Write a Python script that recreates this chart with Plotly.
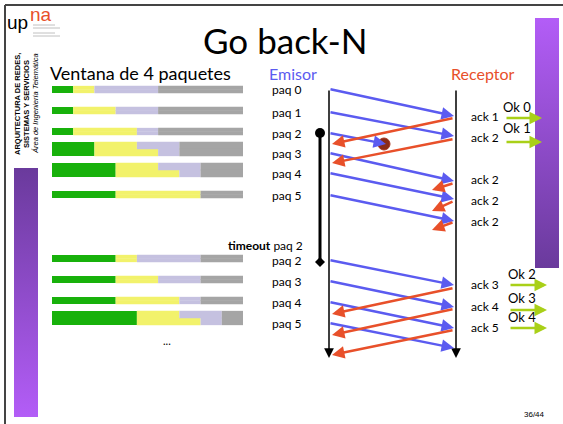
import plotly.graph_objects as go

# ---------------- data ----------------
# sliding window rows (slot counts, window of 9 slots shown per row)
win_green = [1, 1, 1, 2, 3, 3, 3, 3, 3, 4]
win_yellow_top = [1, 2, 3, 2, 2, 4, 1, 2, 3, 2]
win_lavender_top = [3, 2, 1, 2, 2, 0, 3, 2, 1, 2]
win_yellow_bottom = [1, 2, 3, 3, 3, 4, 1, 2, 3, 3]
win_lavender_bottom = [3, 2, 1, 1, 1, 0, 3, 2, 1, 1]
window_slots = 9

# packets sent by Emisor (time = vertical position on the timeline)
paq_labels = ["paq 0", "paq 1", "paq 2", "paq 3", "paq 4", "paq 5",
              "paq 2", "paq 3", "paq 4", "paq 5"]
paq_send_t = [89, 112, 133, 153, 173, 195, 260, 281, 302, 323]
paq_recv_t = [116, 136, None, 181, 199, 221, 285, 307, 328, 348]
lost_t = 144  # paq 2 lost

# acks sent by Receptor
ack_labels = ["ack 1", "ack 2", "ack 2", "ack 2", "ack 2", "ack 3", "ack 4", "ack 5"]
ack_label_t = [116, 137, 179, 200, 221, 284, 306, 327]
ack_send_t = [118, 139, 183, 201, 222, 288, 309, 330]
ack_recv_t = [144, 163, 190, 211, 230, 314, 335, 355]
ack_reaches = [True, True, False, False, False, True, True, True]

# delivered to upper layer
ok_labels = ["Ok 0", "Ok 1", "Ok 2", "Ok 3", "Ok 4"]
ok_text_t = [107, 128, 274, 298, 317]
ok_arrow_t = [118, 142, 285, 310, 328]

timeout_start_t = 133
timeout_end_t = 262

# ---------------- layout constants ----------------
W, H = 563, 424
X_EMI, X_REC = 329, 456
BAR_X0, BAR_X1 = 52, 243
UNIT = (BAR_X1 - BAR_X0) / window_slots
row_top = [86, 107, 128, 142, 163, 191, 255, 276, 297, 311]
row_h = [7, 7, 7, 14, 14, 7, 7, 7, 7, 14]

C_GREEN = "#18B10B"
C_YEL = "#F2F26B"
C_LAV = "#C5C1E0"
C_GRAY = "#A5A5A5"
C_BLUE = "#5B5BF0"
C_RED = "#E8502A"
C_OK = "#A9D018"
C_PURPLE_LIGHT = "#B35DF7"
C_PURPLE_DARK = "#6A3A9C"
FONT = "Lato"

fig = go.Figure()

# purple side bars with gradients
fig.add_trace(go.Scatter(x=[535, 559, 559, 535, 535], y=[18, 18, 268, 268, 18],
                         mode="lines", line=dict(width=0), fill="toself",
                         fillgradient=dict(type="vertical", start=18, stop=268,
                                           colorscale=[[0, C_PURPLE_LIGHT], [1, C_PURPLE_DARK]]),
                         hoverinfo="skip", showlegend=False))
fig.add_trace(go.Scatter(x=[14, 38, 38, 14, 14], y=[168, 168, 417, 417, 168],
                         mode="lines", line=dict(width=0), fill="toself",
                         fillgradient=dict(type="vertical", start=168, stop=417,
                                           colorscale=[[0, C_PURPLE_DARK], [1, C_PURPLE_LIGHT]]),
                         hoverinfo="skip", showlegend=False))

# window bars
def seg_trace(ys, lens, bases, widths, color):
    fig.add_trace(go.Bar(orientation="h", y=ys, x=lens, base=bases, width=widths,
                         marker=dict(color=color, line=dict(width=0)),
                         hoverinfo="skip", showlegend=False))

g_y, g_len, g_base, g_w = [], [], [], []
parts = {C_YEL: ([], [], [], []), C_LAV: ([], [], [], []), C_GRAY: ([], [], [], [])}
for i in range(len(win_green)):
    g_y.append(row_top[i] + row_h[i] / 2)
    g_len.append(win_green[i] * UNIT)
    g_base.append(BAR_X0)
    g_w.append(row_h[i])
    halves = [(win_yellow_top[i], win_lavender_top[i], row_top[i] + row_h[i] / 4),
              (win_yellow_bottom[i], win_lavender_bottom[i], row_top[i] + 3 * row_h[i] / 4)]
    for yel, lav, yc in halves:
        gray = window_slots - win_green[i] - yel - lav
        start = win_green[i]
        for col, n in ((C_YEL, yel), (C_LAV, lav), (C_GRAY, gray)):
            if n > 0:
                p = parts[col]
                p[0].append(yc)
                p[1].append(n * UNIT)
                p[2].append(BAR_X0 + start * UNIT)
                p[3].append(row_h[i] / 2 + 0.3)
            start += n
seg_trace(g_y, g_len, g_base, g_w, C_GREEN)
for col, p in parts.items():
    seg_trace(p[0], p[1], p[2], p[3], col)

shapes = []
ann = []

# frame
shapes.append(dict(type="line", x0=5, x1=563, y0=5, y1=5, line=dict(color="#444", width=2)))
shapes.append(dict(type="line", x0=5, x1=5, y0=5, y1=424, line=dict(color="#444", width=2)))

# timeout bar
shapes.append(dict(type="line", x0=320, x1=320, y0=timeout_start_t, y1=timeout_end_t,
                   line=dict(color="black", width=3)))
shapes.append(dict(type="circle", x0=315, x1=325, y0=timeout_start_t - 5, y1=timeout_start_t + 5,
                   fillcolor="black", line=dict(width=0)))
shapes.append(dict(type="path",
                   path=f"M 320 {timeout_end_t-5} L 325 {timeout_end_t} L 320 {timeout_end_t+5} L 315 {timeout_end_t} Z",
                   fillcolor="black", line=dict(width=0)))

# lost packet ball
shapes.append(dict(type="circle", x0=378, x1=390, y0=lost_t - 6, y1=lost_t + 6,
                   fillcolor="#8A2B18", line=dict(color="#A8361E", width=1)))


def arrow(x0, y0, x1, y1, color, width=2.5, size=1.0):
    ann.append(dict(x=x1, y=y1, ax=x0, ay=y0, xref="x", yref="y", axref="x", ayref="y",
                    text="", showarrow=True, arrowhead=2, arrowsize=size,
                    arrowwidth=width, arrowcolor=color))


# timelines
arrow(X_EMI, 89, X_EMI, 358, "black", 1.5, 1.3)
arrow(X_REC, 89, X_REC, 358, "black", 1.5, 1.3)

# packets
for s, r in zip(paq_send_t, paq_recv_t):
    if r is None:
        arrow(X_EMI, s, 386, lost_t, C_BLUE)
    else:
        arrow(X_EMI, s, X_REC - 2, r, C_BLUE)

# acks
for s, r, full in zip(ack_send_t, ack_recv_t, ack_reaches):
    arrow(X_REC - 2, s, X_EMI + 3 if full else 432, r, C_RED)

# ok arrows
for i, t in enumerate(ok_arrow_t):
    x0, x1 = (505, 542) if i < 2 else (509, 547)
    arrow(x0, t, x1, t, C_OK)

# texts
def txt(x, y, s, size, color="black", xanchor="center", family=FONT, angle=0):
    ann.append(dict(x=x, y=y, xref="x", yref="y", text=s, showarrow=False,
                    xanchor=xanchor, yanchor="middle", textangle=angle,
                    font=dict(family=family, size=size, color=color)))

txt(285, 40, "Go back-N", 35)
txt(48, 73, "Ventana de 4 paquetes", 18, xanchor="left")
txt(293, 73, "Emisor", 16, C_BLUE)
txt(483, 73, "Receptor", 16, C_RED)
for lab, t in zip(paq_labels, paq_send_t):
    txt(303, t, lab, 12, xanchor="right")
txt(305, 245, "<b>timeout</b> paq 2", 12, xanchor="right")
for lab, t in zip(ack_labels, ack_label_t):
    txt(469, t, lab, 12, xanchor="left")
for i, (lab, t) in enumerate(zip(ok_labels, ok_text_t)):
    txt(517 if i < 2 else 522, t, lab, 13)
txt(167, 340, "...", 11)

# logo
txt(5, 22, "up", 19, xanchor="left", family="Liberation Sans")
txt(28, 14, "na", 19, C_RED, xanchor="left", family="Liberation Sans")
for j, y in enumerate([25, 28, 33, 36]):
    shapes.append(dict(type="line", x0=33, x1=55 if j % 2 == 0 else 60, y0=y, y1=y,
                       line=dict(color="#B0B0B0", width=0.8)))

# side rotated text
txt(17, 104, "<b>ARQUITECTURA DE REDES,</b>", 7.5, family="Liberation Sans", angle=-90)
txt(26, 104, "<b>SISTEMAS Y SERVICIOS</b>", 7.5, family="Liberation Sans", angle=-90)
txt(35, 104, "<i>Área de Ingeniería Telemática</i>", 7.5, family="Liberation Sans", angle=-90)

txt(534, 414, "36/44", 8, family="Liberation Sans")

fig.update_layout(
    width=W, height=H, margin=dict(l=0, r=0, t=0, b=0),
    paper_bgcolor="white", plot_bgcolor="white",
    barmode="overlay", showlegend=False, hovermode=False,
    xaxis=dict(range=[0, W], visible=False, fixedrange=True),
    yaxis=dict(range=[H, 0], visible=False, fixedrange=True),
    shapes=shapes, annotations=ann,
)
fig.write_html("out.html", config={"displayModeBar": False, "staticPlot": True},
               post_script="document.body.style.margin='0';document.body.style.overflow='hidden';")
